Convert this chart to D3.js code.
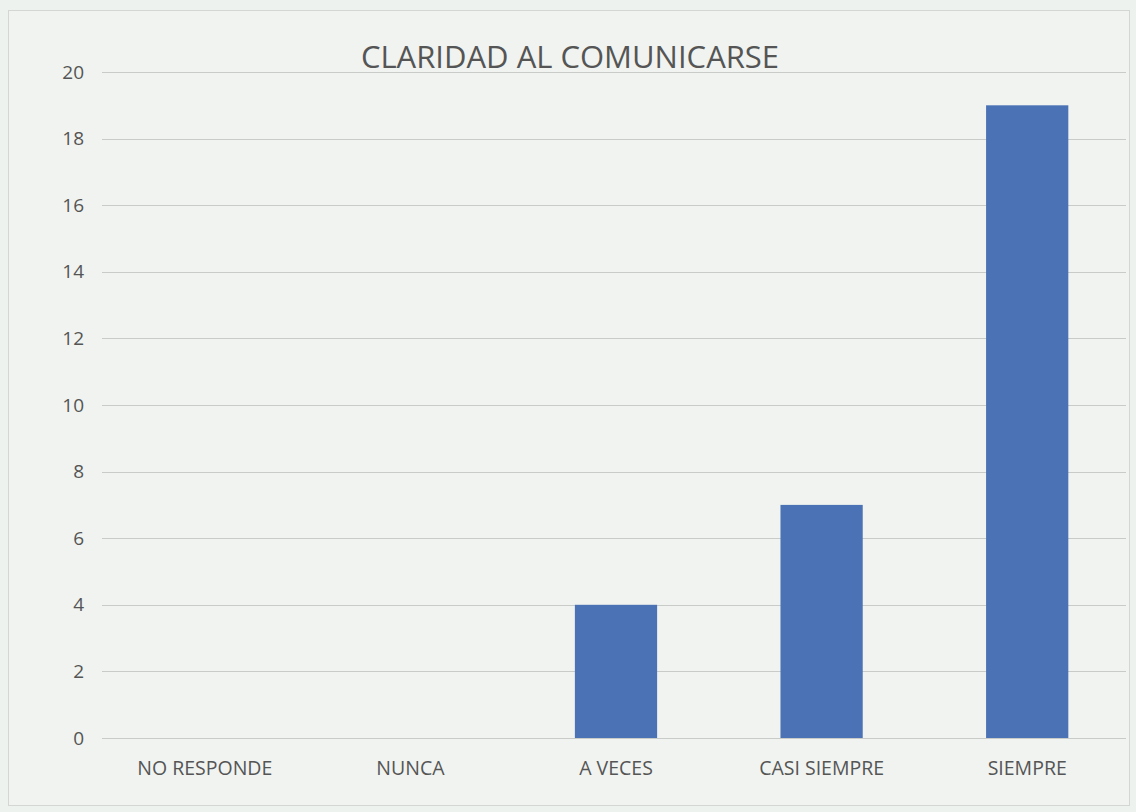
<!DOCTYPE html>
<html>
<head>
<meta charset="utf-8">
<script src="https://cdn.jsdelivr.net/npm/d3@7"></script>
<style>
  body { margin: 0; background: #eef2ee; }
  svg { display: block; font-family: "Open Sans", "Noto Sans", sans-serif; }
</style>
</head>
<body>
<svg id="chart"></svg>
<script>
// Data
var categories = ['NO RESPONDE', 'NUNCA', 'A VECES', 'CASI SIEMPRE', 'SIEMPRE'];
var values = [0, 0, 4, 7, 19];
var yTicks = [0, 2, 4, 6, 8, 10, 12, 14, 16, 18, 20];
var title = 'CLARIDAD AL COMUNICARSE';

var W = 1136, H = 812;
var margin = { top: 72, right: 6, bottom: 74, left: 102 };
var width = W - margin.left - margin.right;
var height = H - margin.top - margin.bottom;
var font = '"Open Sans", "Noto Sans", sans-serif';

var svg = d3.select('#chart').attr('width', W).attr('height', H);

// outer frame
svg.append('rect')
    .attr('x', 8.5).attr('y', 10.5)
    .attr('width', 1121).attr('height', 795)
    .attr('fill', '#f0f3f0')
    .attr('stroke', '#d4d6d4');

var g = svg.append('g')
    .attr('transform', 'translate(' + margin.left + ',' + margin.top + ')');

var x = d3.scaleBand().domain(categories).range([0, width]);
var y = d3.scaleLinear().domain([0, 20]).range([height, 0]);

// gridlines
g.selectAll('.grid')
    .data(yTicks)
    .enter()
    .append('line')
    .attr('class', 'grid')
    .attr('x1', 0).attr('x2', width - 4)
    .attr('y1', function(d) { return Math.round(y(d)) + 0.5; })
    .attr('y2', function(d) { return Math.round(y(d)) + 0.5; })
    .attr('stroke', '#c9cbc9')
    .attr('stroke-width', 1);

// y axis labels
var yAxis = d3.axisLeft(y).tickValues(yTicks).tickSize(0).tickPadding(18);
g.append('g')
    .call(yAxis)
    .attr('font-family', font)
    .call(function(a) { a.select('.domain').remove(); })
    .selectAll('text')
    .attr('fill', '#555')
    .style('font-size', '19px');

// bars
var barW = x.bandwidth() * 0.4;
g.selectAll('.bar')
    .data(values)
    .enter()
    .append('rect')
    .attr('class', 'bar')
    .attr('x', function(d, i) { return x(categories[i]) + (x.bandwidth() - barW) / 2; })
    .attr('y', function(d) { return y(d); })
    .attr('width', barW)
    .attr('height', function(d) { return height - y(d); })
    .attr('fill', '#4a72b5');

// x axis labels
var xAxis = d3.axisBottom(x).tickSize(0).tickPadding(23);
g.append('g')
    .attr('transform', 'translate(0,' + height + ')')
    .call(xAxis)
    .attr('font-family', font)
    .call(function(a) { a.select('.domain').remove(); })
    .selectAll('text')
    .attr('fill', '#555')
    .style('font-size', '19.5px');

// title
svg.append('text')
    .attr('x', 570)
    .attr('y', 68)
    .attr('text-anchor', 'middle')
    .attr('fill', '#555')
    .style('font-size', '31px')
    .text(title);
</script>
</body>
</html>
